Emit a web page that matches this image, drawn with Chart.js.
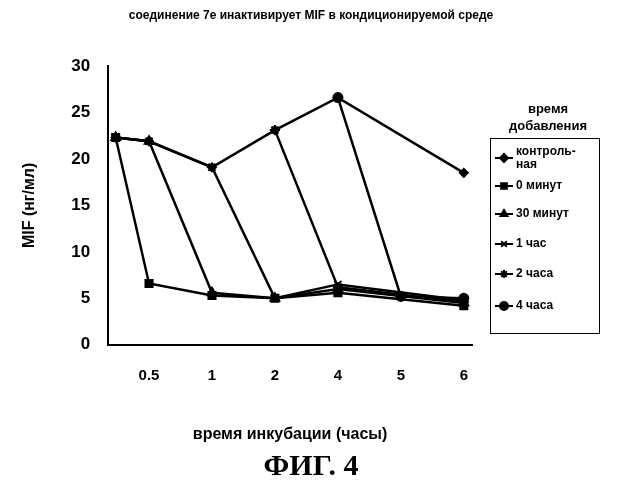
<!DOCTYPE html>
<html><head><meta charset="utf-8">
<script src="https://cdn.jsdelivr.net/npm/chart.js@4"></script>
<style>
body{margin:0;background:#fff;font-family:"Liberation Sans",Arial,sans-serif;}
#wrap{position:relative;width:622px;height:500px;}
canvas{position:absolute;left:0;top:0;}
.t{position:absolute;font-weight:bold;color:#000;}
#leg{position:absolute;left:490px;top:138px;width:110px;height:196px;border:1.5px solid #000;box-sizing:border-box;}
.li{position:absolute;left:4px;font-size:12px;font-weight:bold;display:flex;align-items:center;}
</style></head><body>
<div id="wrap">
<canvas id="c" width="622" height="500"></canvas>
<div class="t" style="left:0;width:622px;top:8px;text-align:center;font-size:12px;">соединение 7е инактивирует MIF в кондиционируемой среде</div>
<div class="t" style="left:488px;width:120px;top:100px;text-align:center;font-size:13px;line-height:17px;">время<br>добавления</div>
<div id="leg"></div>
<div class="t" style="left:0;width:622px;top:448px;text-align:center;font-family:'Liberation Serif',serif;font-size:30px;">ФИГ. 4</div>
</div>
<script>
const xPos=[0.47,1,2,3,4,5,6];
const tickLabels={1:"0.5",2:"1",3:"2",4:"4",5:"5",6:"6"};
const names=["контроль-\nная","0 минут","30 минут","1 час","2 часа","4 часа"];
const control=[22.3,21.9,19.1,23.1,26.6,null,18.5];
const min0=[22.3,6.6,5.3,5.0,5.6,null,4.2];
const min30=[22.3,21.9,5.6,5.0,6.0,null,4.5];
const h1=[22.3,21.9,19.1,5.0,6.5,null,4.8];
const h2=[null,null,null,23.1,6.2,null,4.6];
const h4=[null,null,null,null,26.6,5.2,5.0];
const series=[control,min0,min30,h1,h2,h4];
const styles=['rectRot','rect','triangle','crossRot','star','circle'];
const sizes=[4,5,5,5,5,4.5];
const ds=series.map((s,i)=>({label:names[i],data:s.map((v,j)=>({x:xPos[j],y:v})),borderColor:'#000',backgroundColor:'#000',borderWidth:2.5,pointStyle:styles[i],pointRadius:sizes[i],pointBorderWidth:2,spanGaps:true,tension:0}));
new Chart(document.getElementById('c'),{type:'line',data:{datasets:ds},
options:{responsive:false,animation:false,layout:{padding:{top:66,right:150,left:16,bottom:52}},
plugins:{legend:{display:false},tooltip:{enabled:false}},
scales:{x:{type:'linear',min:0.35,max:6.13,grid:{display:false},border:{color:'#000',width:2},
afterBuildTicks:a=>{a.ticks=Object.keys(tickLabels).map(k=>({value:+k}));},
ticks:{color:'#000',font:{size:15,weight:'bold'},callback:v=>tickLabels[v]||'',padding:14},
title:{display:true,text:'время инкубации (часы)',color:'#000',font:{size:16,weight:'bold'},padding:{top:26}}},
y:{min:0,max:30,grid:{display:false},border:{color:'#000',width:2},
ticks:{stepSize:5,color:'#000',font:{size:17,weight:'bold'},padding:10},
title:{display:true,text:'MIF (нг/мл)',color:'#000',font:{size:16,weight:'bold'},padding:{bottom:22}}}}}});
const leg=document.getElementById('leg');
const tops=[6,40,68,98,128,160];
names.forEach((n,i)=>{const d=document.createElement('div');d.className='li';d.style.top=tops[i]+'px';
const cv=document.createElement('canvas');cv.width=18;cv.height=12;cv.style.position='static';
const g=cv.getContext('2d');g.strokeStyle='#000';g.fillStyle='#000';g.lineWidth=2;g.beginPath();g.moveTo(0,6);g.lineTo(18,6);g.stroke();
Chart.helpers.drawPoint(g,{pointStyle:styles[i],radius:4,borderWidth:2},9,6);
d.appendChild(cv);const s=document.createElement('span');s.style.whiteSpace='pre';s.style.marginLeft='3px';s.style.lineHeight='13px';s.textContent=n;d.appendChild(s);leg.appendChild(d);});
</script></body></html>
